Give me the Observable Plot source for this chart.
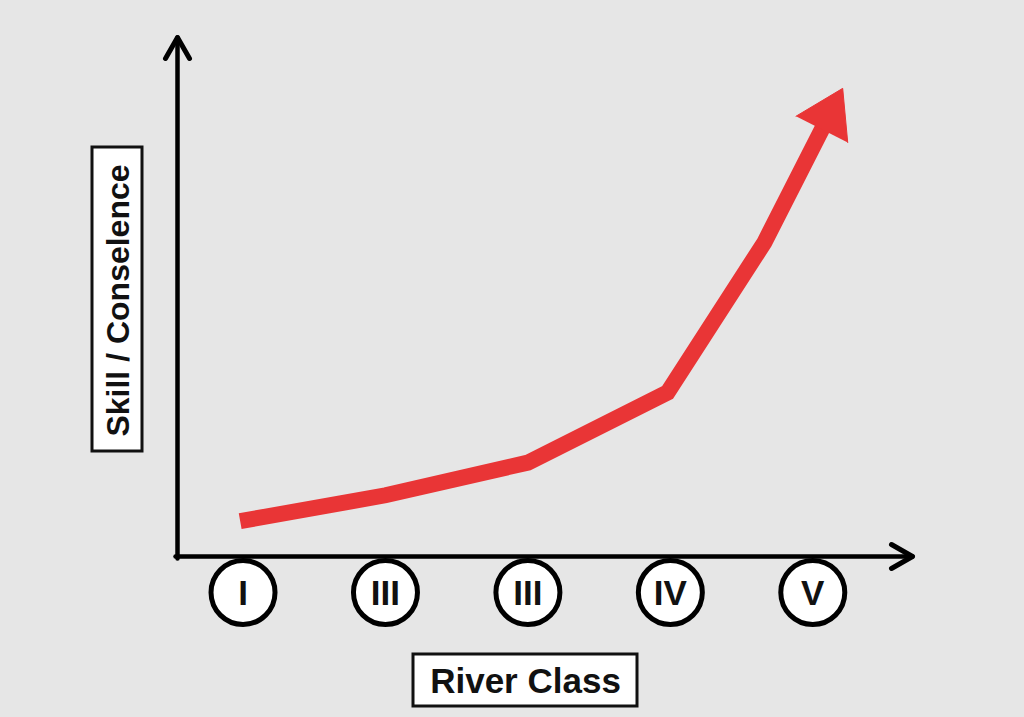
<!DOCTYPE html>
<html><head><meta charset="utf-8">
<script src="https://cdn.jsdelivr.net/npm/d3@7"></script>
<script src="https://cdn.jsdelivr.net/npm/@observablehq/plot@0.6"></script>
<style>html,body{margin:0;padding:0;background:#e6e6e6;} svg{display:block}</style>
</head><body><div id="chart"></div>
<script>
// ---- data ----
const classLabels = ["I", "III", "III", "IV", "V"];
const classPos = [1, 2, 3, 4, 5];
const curveX = [0.98, 2.0, 3.0, 3.98, 4.66, 5.21];
const curveY = [6.8, 11.8, 18.1, 31.6, 60.5, 90.2];
const xTitle = "River Class";
const yTitle = "Skill / Conselence";

// ---- layout ----
const W = 1024, H = 717;
const M = {top: 37, right: 112, bottom: 161, left: 177};
const xDomain = [0.54, 5.7], yDomain = [0, 100];
const X = d3.scaleLinear(xDomain, [M.left, W - M.right]);
const Y = d3.scaleLinear(yDomain, [H - M.bottom, M.top]);
const inv = ([px, py]) => ({x: X.invert(px), y: Y.invert(py)});
const RED = "#e93536", FONT = "Liberation Sans, Arial, Helvetica, sans-serif";

// curve: shaft + filled arrow head (computed in pixel space from the data)
const pts = curveX.map((x, i) => [X(x), Y(curveY[i])]);
const tip = pts[pts.length - 1], prev = pts[pts.length - 2];
const dx = tip[0] - prev[0], dy = tip[1] - prev[1], L = Math.hypot(dx, dy);
const u = [dx / L, dy / L], n = [-u[1], u[0]];
const headLen = 46, headHalf = 29;
const base = [tip[0] - headLen * u[0], tip[1] - headLen * u[1]];
const shaftEnd = [tip[0] - (headLen - 6) * u[0], tip[1] - (headLen - 6) * u[1]];
const shaft = [...pts.slice(0, -1), shaftEnd].map(inv);
const head = [
  [base[0] + headHalf * n[0], base[1] + headHalf * n[1]],
  tip,
  [base[0] - headHalf * n[0], base[1] - headHalf * n[1]]
].map(inv);

// axes with open arrow heads
const ox = X(xDomain[0]), oy = Y(yDomain[0]);
const yTip = [ox, Y(yDomain[1])], xTip = [X(xDomain[1]), oy];
const yAxisLine = [[ox, oy + 2], yTip].map(inv);
const xAxisLine = [[ox - 2, oy], xTip].map(inv);
const yHead = [[yTip[0] - 12, yTip[1] + 21], yTip, [yTip[0] + 12, yTip[1] + 21]].map(inv);
const xHead = [[xTip[0] - 21, xTip[1] - 12], xTip, [xTip[0] - 21, xTip[1] + 12]].map(inv);

// class badges below the x axis
const badgeY = Y.invert(oy + 36);
const badges = classPos.map((x, i) => ({x, y: badgeY, label: classLabels[i]}));

// title boxes
const yBox = {x1: X.invert(92), x2: X.invert(142), y1: Y.invert(451), y2: Y.invert(147)};
const xBox = {x1: X.invert(413), x2: X.invert(637), y1: Y.invert(706), y2: Y.invert(654)};
const yLab = {x: X.invert(118), y: Y.invert(300), t: yTitle};
const xLab = {x: X.invert(525), y: Y.invert(681), t: xTitle};

const chart = Plot.plot({
  width: W, height: H,
  marginTop: M.top, marginRight: M.right, marginBottom: M.bottom, marginLeft: M.left,
  x: {domain: xDomain, axis: null},
  y: {domain: yDomain, axis: null},
  style: {background: "#e6e6e6", fontFamily: FONT},
  marks: [
    Plot.line(yAxisLine, {x: "x", y: "y", stroke: "#000", strokeWidth: 4.5}),
    Plot.line(xAxisLine, {x: "x", y: "y", stroke: "#000", strokeWidth: 4.5}),
    Plot.line(yHead, {x: "x", y: "y", stroke: "#000", strokeWidth: 5, strokeLinecap: "round", strokeLinejoin: "round"}),
    Plot.line(xHead, {x: "x", y: "y", stroke: "#000", strokeWidth: 5, strokeLinecap: "round", strokeLinejoin: "round"}),
    Plot.line(shaft, {x: "x", y: "y", stroke: RED, strokeWidth: 16, strokeLinejoin: "miter", strokeLinecap: "butt", strokeMiterlimit: 10}),
    Plot.line(head, {x: "x", y: "y", fill: RED, stroke: RED, strokeWidth: 1}),
    Plot.dot(badges, {x: "x", y: "y", r: 32, fill: "#fff", stroke: "#000", strokeWidth: 5}),
    Plot.text(badges, {x: "x", y: "y", text: "label", fontSize: 35, fontFamily: "Liberation Sans Narrow, Arial Narrow, Liberation Sans, sans-serif", fontWeight: "bold", fill: "#111", dy: 1}),
    Plot.rect([yBox], {x1: "x1", x2: "x2", y1: "y1", y2: "y2", fill: "#fff", stroke: "#111", strokeWidth: 3}),
    Plot.rect([xBox], {x1: "x1", x2: "x2", y1: "y1", y2: "y2", fill: "#fff", stroke: "#111", strokeWidth: 3}),
    Plot.text([yLab], {x: "x", y: "y", text: "t", rotate: -90, fontSize: 32, fontWeight: "bold", fill: "#111"}),
    Plot.text([xLab], {x: "x", y: "y", text: "t", fontSize: 35, fontWeight: "bold", fill: "#111"})
  ]
});
document.getElementById("chart").append(chart);
</script>
</body></html>
